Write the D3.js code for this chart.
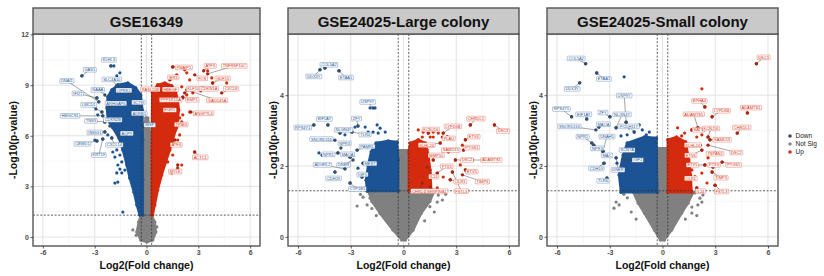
<!DOCTYPE html>
<html>
<head>
<meta charset="utf-8">
<script src="https://cdn.jsdelivr.net/npm/d3@7"></script>
<style>
  html, body { margin: 0; padding: 0; background: #fff; }
  svg { display: block; font-family: "Liberation Sans", Arial, sans-serif; }
</style>
</head>
<body>
<svg id="chart" width="824" height="276"></svg>
<script>
// ---- data (log2FC, -log10 p) ----
const panelTitles = ['GSE16349', 'GSE24025-Large colony', 'GSE24025-Small colony'];
const xTicks = [-6, -3, 0, 3, 6];
const yTicksA = [0, 3, 6, 9, 12];
const yTicksB = [0, 2, 4];
const legendKeys = ['Down', 'Not Sig', 'Up'];

// dense clouds: outline of the solid mass of points
const p1GrayCloud = [[-0.04,7.06],[0.08,7.06],[0.25,5.75],[0.28,1.3],[0.48,0.89],[0.54,0.3],[0.36,-0.18],[0.02,-0.3],[-0.33,-0.18],[-0.56,0.3],[-0.45,0.89],[-0.33,1.3],[-0.27,5.75]];
const p1DownCloud = [[-1.66,9.02],[-1.08,9.13],[-0.62,8.84],[-0.33,8.42],[-0.24,7.53],[-0.21,5.75],[-0.21,3.38],[-0.21,1.3],[-0.39,1.3],[-0.56,1.9],[-0.73,2.67],[-0.97,3.5],[-1.14,4.27],[-1.37,5.16],[-1.6,5.87],[-1.95,6.47],[-2.24,6.94],[-2.29,7.65],[-2.24,8.3],[-2.01,8.72]];
const p1UpCloud = [[0.65,9.02],[1.06,9.13],[1.46,8.96],[1.69,8.6],[1.81,8.13],[1.87,7.53],[1.81,6.94],[1.69,6.35],[1.52,5.75],[1.35,5.16],[1.12,4.45],[0.88,3.68],[0.65,2.79],[0.48,1.9],[0.36,1.3],[0.3,1.3],[0.3,5.0],[0.33,8.6]];

const p2GrayCloud = [[-2.0,1.29],[-0.3,1.29],[-0.3,2.45],[0.3,2.45],[0.3,1.29],[1.75,1.29],[1.5,1.0],[1.0,0.66],[0.55,0.19],[0.1,-0.09],[-0.1,-0.09],[-0.6,0.19],[-1.33,0.66],[-1.8,1.0]];
const p2DownCloud = [[-1.56,2.65],[-0.87,2.71],[-0.36,2.68],[-0.3,2.17],[-0.3,1.29],[-2.07,1.29],[-2.13,1.6],[-2.01,2.03],[-1.84,2.4]];
const p2UpCloud = [[0.38,2.65],[0.84,2.74],[1.24,2.65],[1.41,2.31],[1.52,1.89],[1.58,1.29],[0.3,1.29],[0.3,2.4]];

const p3GrayCloud = [[-1.65,1.26],[-0.3,1.26],[-0.3,2.5],[0.3,2.5],[0.3,1.26],[1.75,1.26],[1.45,0.95],[1.09,0.67],[0.52,0.19],[0.1,-0.09],[-0.12,-0.09],[-0.46,0.19],[-1.03,0.67],[-1.38,0.95]];
const p3DownCloud = [[-2.01,2.65],[-1.03,2.82],[-0.34,2.79],[-0.3,1.26],[-2.36,1.26],[-2.47,1.75],[-2.24,2.31]];
const p3UpCloud = [[0.3,2.74],[0.8,2.82],[1.32,2.68],[1.5,2.17],[1.6,1.75],[1.66,1.26],[0.3,1.26]];

// scattered points outside the dense mass
const p1DownPts = [[-2.06,10.14],[-1.89,10.14],[-3.74,9.55],[-1.54,9.73],[-1.72,9.55],[-2.87,8.24],[-2.76,8.01],[-2.93,7.59],[-2.58,7.41],[-2.53,7.18],[-2.41,6.82],[-2.82,7.24],[-2.41,6.23],[-2.24,6.05],[-2.53,5.81],[-2.87,5.69],[-2.99,5.75],[-2.01,5.87],[-1.72,5.16],[-1.54,4.86],[-1.83,4.74],[-1.43,4.45],[-1.66,4.27],[-1.54,4.03],[-1.43,3.8],[-1.72,3.8],[-1.25,3.97],[-1.95,5.04],[-1.66,3.26],[-1.83,3.2],[-1.37,1.48]];
const p1UpPts = [[1.52,10.08],[2.33,9.73],[2.21,9.91],[2.5,9.31],[1.75,9.61],[3.54,9.85],[3.78,9.43],[3.83,9.13],[4.64,9.13],[3.14,8.66],[2.68,8.54],[2.04,8.9],[2.33,8.42],[2.1,8.24],[2.5,7.41],[2.1,7.24],[1.92,7.06],[2.04,6.82],[1.52,6.76],[1.75,6.47],[1.92,6.05],[1.81,5.75],[1.52,5.58],[2.79,5.04],[2.04,4.27],[1.81,4.09],[1.46,3.8],[1.52,4.86],[1.23,4.45]];
const p1GrayPts = [[-0.79,0.42],[-0.6,0.1],[0.6,0.6]];

const p2DownPts = [[-4.75,4.72],[-4.47,4.77],[-3.67,4.69],[-1.9,3.64],[-1.62,3.64],[-4.3,3.16],[-5.1,3.16],[-2.76,3.1],[-2.59,3.13],[-2.18,3.1],[-1.5,3.16],[-1.33,3.07],[-1.04,2.96],[-2.01,2.96],[-3.61,2.93],[-3.33,2.88],[-2.93,2.96],[-1.73,2.96],[-1.44,2.93],[-3.73,2.37],[-4.81,2.37],[-4.64,2.31],[-3.04,2.25],[-2.87,2.31],[-3.04,1.52],[-3.9,1.83],[-3.33,1.92],[-2.64,2.45],[-2.07,2.54],[-2.3,2.08],[-2.59,1.94],[-2.36,1.69],[-2.07,1.6]];
const p2UpPts = [[3.8,3.16],[5.17,3.16],[0.84,3.02],[1.12,2.96],[1.41,2.93],[1.69,2.96],[1.98,2.93],[2.26,2.93],[2.49,2.82],[2.21,2.82],[1.52,2.82],[1.07,2.82],[3.52,2.74],[3.35,2.59],[3.41,2.45],[2.95,2.17],[3.23,2.03],[3.52,1.89],[2.66,1.61],[2.78,1.83],[2.26,1.69],[1.92,1.8],[2.55,2.4],[2.09,2.65],[1.69,2.82],[1.35,2.45],[1.69,2.17],[1.35,1.97],[1.07,1.52],[1.52,1.41],[1.92,1.38]];
const p2GrayPts = [[-2.64,0.87],[-2.07,0.9],[-1.9,1.09],[1.64,1.24],[1.98,1.18],[1.35,1.09],[2.21,1.04],[1.92,0.98],[0.84,0.9],[-2.3,1.12],[-1.8,0.8],[1.5,0.85],[-2.45,1.2],[2.4,1.2],[1.75,0.7],[-1.55,0.6],[1.2,0.45]];

const p3DownPts = [[-4.37,4.89],[-3.74,4.63],[-2.18,4.52],[-4.71,4.35],[-5.17,3.39],[-4.31,3.33],[-2.99,3.39],[-3.62,3.1],[-2.64,3.08],[-2.07,3.24],[-1.9,3.08],[-1.61,2.96],[-1.32,3.16],[-1.15,3.02],[-2.01,2.88],[-2.36,2.85],[-0.92,2.88],[-0.75,2.96],[-4.02,2.65],[-3.91,2.59],[-3.39,2.42],[-3.33,2.08],[-3.16,1.66],[-2.64,2.23],[-2.18,2.17],[-2.76,1.89],[-2.36,1.69],[-2.24,1.46],[-1.9,1.41],[-2.59,2.08]];
const p3UpPts = [[5.34,4.89],[2.24,4.18],[2.41,3.67],[4.83,3.5],[2.82,3.39],[4.25,2.93],[0.86,3.08],[1.26,2.93],[1.67,3.02],[2.01,3.08],[2.41,3.05],[2.24,2.88],[1.95,2.82],[2.59,2.82],[1.09,2.85],[2.7,2.74],[2.13,2.59],[2.24,2.45],[2.99,2.37],[2.59,2.23],[3.39,2.11],[2.87,1.97],[2.41,2.03],[2.24,1.8],[2.82,1.83],[1.84,1.69],[2.53,1.52],[2.99,1.46],[1.95,1.38],[1.44,1.52],[1.67,1.89]];
const p3GrayPts = [[-2.64,0.98],[-2.47,0.9],[-2.76,0.81],[1.84,1.24],[2.13,1.09],[2.24,0.98],[2.01,0.9],[1.67,0.84],[-1.78,0.7],[1.67,0.67],[-2.0,1.1],[1.3,0.5],[-2.2,1.2],[2.3,1.18],[-1.5,0.5],[1.95,0.6]];

// labelled genes: [gene, log2FC, -log10p, label log2FC, label -log10p]
const p1DownLabels = [["KLHL3",-2.06,10.14,-2.18,10.5],["GAS1",-3.74,9.55,-3.28,9.91],["DNAI1",-2.76,8.01,-4.61,9.25],["IFI27",-2.87,8.24,-3.97,8.51],["NAAA",-2.41,8.42,-2.82,8.72],["SLC4A10",-1.72,8.96,-2.01,9.34],["OPRK1",-0.97,8.42,-1.31,8.69],["LMCD1",-2.58,7.41,-3.34,7.83],["ARHGAP6",-2.12,7.65,-1.77,7.92],["HMGCS1",-2.53,7.18,-4.43,7.18],["TNS3",-2.41,6.82,-3.22,6.88],["CDKN2B",-2.12,6.58,-1.95,6.94],["SCTR",-0.5,7.65,-0.47,7.98],["ADRB1",-0.45,7.06,-0.42,7.33],["INSIG1",-2.41,6.23,-2.99,6.2],["AQP9",-1.66,6.05,-1.14,6.14],["CBWD1",-2.87,5.69,-3.71,5.52],["CXCL14",-2.01,5.87,-1.86,5.46],["KRT19",-2.53,5.81,-2.76,4.86],["IBSP",-0.27,6.47,0.19,6.64]];
const p1UpLabels = [["PMAIP1",1.52,10.08,2.16,10.05],["ATF3",3.31,9.85,3.69,10.14],["TNFRSF10C",3.54,9.67,5.08,10.14],["FOS",2.79,9.61,3.23,9.4],["GDF15",3.83,9.13,4.41,9.4],["IER3",1.35,9.31,1.55,9.46],["RASL11B",0.77,8.66,0.22,8.75],["HBEGF",1.46,8.9,1.38,8.75],["KLF10",2.21,8.54,2.71,8.78],["CDKN1A",3.25,8.84,3.63,8.78],["CXCL8",4.35,8.54,4.9,8.78],["EMP1",2.1,8.3,2.65,8.13],["GADD45A",2.33,8.72,4.09,8.1],["PPP1R15A",1.64,8.24,1.4,8.13],["EGR1",1.69,7.65,1.35,7.53],["ANGPTL4",2.56,7.41,3.31,7.33],["TRIB3",1.81,6.64,2.01,6.67],["ATF4",1.64,5.75,1.72,5.46],["ACTC1",2.79,5.04,3.11,4.72],["MYLK",1.81,4.27,1.66,3.88]];

const p2DownLabels = [["COL5A2",-4.47,4.77,-4.24,4.86],["DDX3Y",-4.75,4.72,-5.1,4.53],["ETAA1",-3.67,4.69,-3.27,4.5],["USP9Y",-1.73,3.64,-2.04,3.81],["ZFY",-2.59,3.13,-2.67,3.34],["EIF1AY",-4.3,3.16,-4.5,3.33],["RPS4Y1",-5.1,3.16,-5.73,3.09],["NLGN4Y",-3.61,2.93,-3.41,3.02],["SNORD116",-3.9,2.73,-4.67,2.76],["TLR4",-2.93,2.96,-2.18,2.89],["NPR3",-3.56,2.51,-3.35,2.64],["NPR1",-3.73,2.37,-4.27,2.33],["MAOA",-3.04,2.25,-3.18,2.33],["PAMR1",-2.64,2.45,-2.07,2.55],["ADGRL2",-3.33,1.92,-4.61,2.03],["DNER",-2.87,2.17,-3.41,2.03],["MEST",-2.3,2.08,-1.9,2.07],["IGF1",-2.36,1.69,-2.33,1.76],["CDH19",-3.9,1.83,-3.98,1.65],["CYP1B1",-3.04,1.52,-2.62,1.35]];
const p2UpLabels = [["CHRDL1",3.8,3.16,4.12,3.34],["DSC3",5.17,3.16,5.66,2.99],["LYPD6B",2.26,2.93,2.81,3.12],["KCNJ16",1.41,2.93,1.55,3.03],["ETV4",3.52,2.74,4.0,2.83],["PTGS1",3.41,2.45,3.89,2.52],["ADAMTS1",3.92,2.17,5.0,2.17],["DSC2",2.95,2.17,3.61,2.17],["ETV5",3.52,1.89,3.89,1.84],["TIMP3",3.35,1.75,4.49,1.56],["OLR1",2.66,1.61,3.23,1.56],["FSTL3",2.78,1.83,3.29,1.29],["SAMD13",2.55,2.4,2.69,2.45],["KLHL24",2.09,2.65,1.32,2.59],["MMP10",1.69,2.17,1.86,2.3],["PTX3",1.92,1.8,2.46,1.99],["IL24",1.35,1.97,1.72,1.7],["CHRD1",1.07,1.52,0.87,1.29],["SERPINB2",1.52,1.41,1.89,1.29],["PLAU",2.49,2.82,2.58,2.78]];

const p3DownLabels = [["COL5A2",-4.37,4.89,-4.91,5.04],["ETAA1",-3.74,4.63,-3.33,4.46],["DDX3Y",-4.71,4.35,-5.14,4.18],["USP9Y",-2.07,3.24,-2.18,3.99],["RPS4Y1",-5.17,3.39,-5.75,3.61],["EIF1AY",-4.31,3.33,-4.48,3.46],["ZFY",-2.99,3.39,-3.39,3.51],["NLGN4Y",-2.64,3.08,-2.3,3.46],["MAOA",-3.62,3.1,-3.36,3.18],["SNORD116",-3.79,3.02,-5.29,3.12],["PCDH11Y",-1.61,2.96,-1.9,3.12],["NPR1",-4.02,2.65,-4.54,2.83],["DNAH5",-3.39,2.42,-3.16,2.83],["NPR3",-3.91,2.59,-3.71,2.5],["MAC",-3.39,2.42,-3.16,2.3],["CDH19",-3.33,2.08,-3.76,1.93],["DNER",-2.64,2.23,-2.53,1.89],["IGF1",-2.18,2.17,-1.41,2.17],["TLR4",-3.16,1.66,-3.39,1.58],["SCN7A",-1.9,2.31,-2.01,2.45]];
const p3UpLabels = [["DSC3",5.34,4.89,5.75,5.07],["EPHA4",2.41,3.67,2.1,3.84],["LYPD6B",2.82,3.39,3.36,3.56],["ADAMTS1",4.83,3.5,5.03,3.65],["ADAMTS5",2.01,3.08,1.78,3.46],["CHRDL1",4.25,2.93,4.51,3.09],["SAT1",1.67,3.02,2.04,3.02],["KCNJ16",2.59,2.82,2.76,3.06],["SAMD13",2.7,2.74,3.39,2.74],["DSC2",2.59,2.59,4.2,2.38],["KLHL24",2.13,2.59,1.72,2.59],["TSPAN2",2.99,2.37,2.99,2.35],["ETV4",2.24,2.45,1.61,2.3],["ETV5",2.41,2.03,1.7,2.03],["PTX3",2.87,1.97,2.93,2.03],["PTGS1",3.39,2.11,4.05,2.03],["TIMP3",2.82,1.83,3.33,1.67],["OLR1",1.84,1.69,1.61,1.65],["IL24",1.95,1.38,2.16,1.29],["FSTL3",2.99,1.46,3.36,1.28]];

// ---- layout ----
const colors = { Down: '#1b5394', 'Not Sig': '#808080', Up: '#d42a0e' };
const darkLab = { Down: '#34506e', Up: '#b3200e' };
const legendDot = { Down: '#3b4d5e', 'Not Sig': '#8c8c8c', Up: '#c8321e' };
const yThresh = 1.3, fcThresh = 0.3;
const stripTop = 8, plotTop = 34, plotBottom = 246;

const panels = [
  { title: panelTitles[0], left: 33, right: 260, yDomain: [-0.53, 12.03], yTicks: yTicksA, yMinor: [1.5, 4.5, 7.5, 10.5], yLabX: 13,
    gray: p1GrayCloud, down: p1DownCloud, up: p1UpCloud, grayPts: p1GrayPts, downPts: p1DownPts, upPts: p1UpPts, downLab: p1DownLabels, upLab: p1UpLabels },
  { title: panelTitles[1], left: 288, right: 519, yDomain: [-0.26, 5.73], yTicks: yTicksB, yMinor: [1, 3, 5], yLabX: 273,
    gray: p2GrayCloud, down: p2DownCloud, up: p2UpCloud, grayPts: p2GrayPts, downPts: p2DownPts, upPts: p2UpPts, downLab: p2DownLabels, upLab: p2UpLabels },
  { title: panelTitles[2], left: 547, right: 778, yDomain: [-0.26, 5.73], yTicks: yTicksB, yMinor: [1, 3, 5], yLabX: 533,
    gray: p3GrayCloud, down: p3DownCloud, up: p3UpCloud, grayPts: p3GrayPts, downPts: p3DownPts, upPts: p3UpPts, downLab: p3DownLabels, upLab: p3UpLabels }
];

const svg = d3.select('#chart');

panels.forEach((p, i) => {
  const x = d3.scaleLinear().domain([-6.57, 6.57]).range([p.left, p.right]);
  const y = d3.scaleLinear().domain(p.yDomain).range([plotBottom, plotTop]);
  const g = svg.append('g');

  g.append('clipPath').attr('id', 'clip' + i)
    .append('rect').attr('x', p.left).attr('y', plotTop).attr('width', p.right - p.left).attr('height', plotBottom - plotTop);

  // panel background + grid
  g.append('rect').attr('x', p.left).attr('y', plotTop).attr('width', p.right - p.left).attr('height', plotBottom - plotTop).attr('fill', '#fff');
  const grid = g.append('g');
  [-4.5, -1.5, 1.5, 4.5].forEach(v => grid.append('line').attr('x1', x(v)).attr('x2', x(v)).attr('y1', plotTop).attr('y2', plotBottom).attr('stroke', '#f2f2f2').attr('stroke-width', 0.6));
  p.yMinor.forEach(v => grid.append('line').attr('x1', p.left).attr('x2', p.right).attr('y1', y(v)).attr('y2', y(v)).attr('stroke', '#f2f2f2').attr('stroke-width', 0.6));
  xTicks.forEach(v => grid.append('line').attr('x1', x(v)).attr('x2', x(v)).attr('y1', plotTop).attr('y2', plotBottom).attr('stroke', '#e3e3e3').attr('stroke-width', 1));
  p.yTicks.forEach(v => grid.append('line').attr('x1', p.left).attr('x2', p.right).attr('y1', y(v)).attr('y2', y(v)).attr('stroke', '#e3e3e3').attr('stroke-width', 1));

  const plot = g.append('g').attr('clip-path', `url(#clip${i})`);
  const cloudLine = d3.line().x(d => x(d[0])).y(d => y(d[1])).curve(d3.curveLinearClosed);

  const drawCloud = (pts, col) => {
    plot.append('path').datum(pts).attr('d', cloudLine)
      .attr('fill', col).attr('stroke', col).attr('stroke-width', 2.4).attr('stroke-linejoin', 'round');
    plot.selectAll(null).data(pts).join('circle')
      .attr('cx', d => x(d[0])).attr('cy', d => y(d[1])).attr('r', 1.7).attr('fill', col);
  };
  const drawPts = (pts, col) => {
    plot.selectAll(null).data(pts).join('circle')
      .attr('cx', d => x(d[0])).attr('cy', d => y(d[1])).attr('r', 1.6).attr('fill', col);
  };

  drawCloud(p.gray, colors['Not Sig']);
  drawPts(p.grayPts, colors['Not Sig']);
  drawCloud(p.down, colors.Down);
  drawCloud(p.up, colors.Up);
  drawPts(p.downPts, colors.Down);
  drawPts(p.upPts, colors.Up);

  // threshold lines
  [-fcThresh, fcThresh].forEach(v => plot.append('line').attr('x1', x(v)).attr('x2', x(v)).attr('y1', plotTop).attr('y2', plotBottom)
    .attr('stroke', '#333').attr('stroke-width', 0.8).attr('stroke-dasharray', '2,1.6'));
  plot.append('line').attr('x1', p.left).attr('x2', p.right).attr('y1', y(yThresh)).attr('y2', y(yThresh))
    .attr('stroke', '#333').attr('stroke-width', 0.8).attr('stroke-dasharray', '2,1.6');

  // labelled genes
  const labs = p.downLab.map(d => ({ d, k: 'Down' })).concat(p.upLab.map(d => ({ d, k: 'Up' })));
  const leaders = plot.append('g'), boxes = plot.append('g'), texts = plot.append('g');
  labs.forEach(({ d, k }) => {
    plot.insert('circle', 'g').attr('cx', x(d[1])).attr('cy', y(d[2])).attr('r', 1.7).attr('fill', darkLab[k]);
    const lx = x(d[3]), ly = y(d[4]);
    const px = x(d[1]), py = y(d[2]);
    const t = texts.append('text').attr('x', lx).attr('y', ly + 1.4).attr('text-anchor', 'middle')
      .attr('font-size', 4).attr('fill', colors[k]).text(d[0]);
    const w = t.node().getComputedTextLength() + 2.4, h = 4.6;
    if (Math.hypot(px - lx, py - ly) > 7) {
      leaders.append('line').attr('x1', lx).attr('y1', ly).attr('x2', px).attr('y2', py)
        .attr('stroke', '#3a3a3a').attr('stroke-width', 0.45);
    }
    boxes.append('rect').attr('x', lx - w / 2).attr('y', ly - h / 2).attr('width', w).attr('height', h)
      .attr('rx', 0.6).attr('fill', '#fff').attr('stroke', colors[k]).attr('stroke-width', 0.4).attr('stroke-opacity', 0.8);
  });

  // border
  g.append('rect').attr('x', p.left).attr('y', plotTop).attr('width', p.right - p.left).attr('height', plotBottom - plotTop)
    .attr('fill', 'none').attr('stroke', '#555').attr('stroke-width', 1.4);

  // strip
  g.append('rect').attr('x', p.left).attr('y', stripTop).attr('width', p.right - p.left).attr('height', plotTop - stripTop)
    .attr('fill', '#c9c9c9').attr('stroke', '#555').attr('stroke-width', 1.4);
  g.append('text').attr('x', (p.left + p.right) / 2).attr('y', stripTop + 18.5).attr('text-anchor', 'middle')
    .attr('font-size', 15).attr('font-weight', 'bold').attr('fill', '#111').text(p.title);

  // axes
  const fmt = v => String(v);
  const xAxis = g.append('g').attr('transform', `translate(0,${plotBottom})`)
    .call(d3.axisBottom(x).tickValues(xTicks).tickFormat(fmt).tickSize(2.5).tickPadding(2));
  const yAxis = g.append('g').attr('transform', `translate(${p.left},0)`)
    .call(d3.axisLeft(y).tickValues(p.yTicks).tickFormat(fmt).tickSize(2.5).tickPadding(1.5));
  [xAxis, yAxis].forEach(a => {
    a.select('.domain').remove();
    a.selectAll('line').attr('stroke', '#333').attr('stroke-width', 0.8);
    a.selectAll('text').attr('font-size', 7).attr('font-weight', 'bold').attr('fill', '#4d4d4d')
      .attr('font-family', '"Liberation Sans", Arial, sans-serif');
  });

  g.append('text').attr('x', (p.left + p.right) / 2).attr('y', 269).attr('text-anchor', 'middle')
    .attr('font-size', 10.5).attr('font-weight', 'bold').attr('fill', '#111').text('Log2(Fold change)');
  g.append('text').attr('transform', `translate(${p.yLabX},${(plotTop + plotBottom) / 2}) rotate(-90)`)
    .attr('text-anchor', 'middle').attr('dy', '0.35em')
    .attr('font-size', 10.5).attr('font-weight', 'bold').attr('fill', '#111').text('-Log10(p-value)');
});

// legend
const legend = svg.append('g');
legendKeys.forEach((k, i) => {
  const ly = 136 + i * 8;
  legend.append('circle').attr('cx', 790).attr('cy', ly).attr('r', 1.8).attr('fill', legendDot[k]);
  legend.append('text').attr('x', 795.5).attr('y', ly).attr('dy', '0.35em')
    .attr('font-size', 6.5).attr('fill', '#222').text(k);
});
</script>
</body>
</html>
